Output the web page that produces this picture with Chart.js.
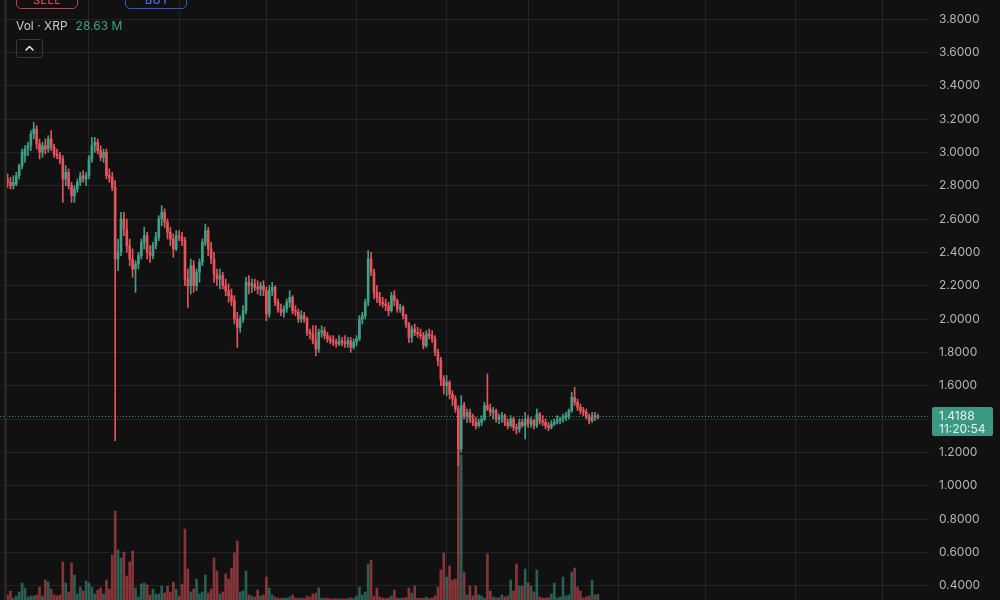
<!DOCTYPE html>
<html>
<head>
<meta charset="utf-8">
<script src="https://cdn.jsdelivr.net/npm/chart.js@4.4.1/dist/chart.umd.min.js"></script>
<style>
html,body{margin:0;padding:0;background:#111111;overflow:hidden;}
#wrap{position:relative;width:1000px;height:600px;overflow:hidden;background:#111111;font-family:Inter,"Noto Sans",sans-serif;}
#c{position:absolute;left:0;top:0;}
.edge{position:absolute;left:4px;top:0;width:3px;height:600px;background:#262626;}
.btn{position:absolute;top:-17px;height:26px;width:62px;box-sizing:border-box;border:1px solid;border-radius:5px;}
.btntext{position:absolute;top:-8px;height:16px;line-height:16px;font-size:11px;font-weight:500;letter-spacing:0.4px;}
.legend{position:absolute;top:18px;left:16px;height:15px;line-height:15px;font-size:12px;white-space:nowrap;}
.legend .lbl{color:#c8c8c8;}
.legend .val{color:#3fa38a;margin-left:8px;}
.chev{position:absolute;left:16px;top:39px;width:27px;height:19px;box-sizing:border-box;border:1px solid #383838;border-radius:3px;}
</style>
</head>
<body>
<div id="wrap">
  <canvas id="c" width="1000" height="600"></canvas>
  <div class="edge"></div>
  <div class="btn" style="left:16px;border-color:#b8434a;"></div>
  <div class="btntext" style="left:33px;color:#d9474f;">SELL</div>
  <div class="btn" style="left:125px;border-color:#3653d6;"></div>
  <div class="btntext" style="left:145px;color:#4d6ef0;">BUY</div>
  <div class="legend"><span class="lbl">Vol · XRP</span><span class="val">28.63 M</span></div>
  <div class="chev"><svg width="25" height="17" viewBox="0 0 25 17"><polyline points="9,10 12.5,6.5 16,10" fill="none" stroke="#e6e6e6" stroke-width="1.6" stroke-linecap="round" stroke-linejoin="round"/></svg></div>
</div>
<script>
// ---- data (daily candles, XRP) ----
const firstDate = '2025-09-03';
const monthStarts = ['2025-10-01','2025-11-01','2025-12-01','2026-01-01','2026-02-01','2026-03-01','2026-04-01','2026-05-01','2026-06-01','2026-07-01'];
const priceTicks = [0.4,0.6,0.8,1.0,1.2,1.4,1.6,1.8,2.0,2.2,2.4,2.6,2.8,3.0,3.2,3.4,3.6,3.8];
const lastPriceLabel = '1.4188';
const countdownLabel = '11:20:54';

const opens = [
2.84,2.82,2.80,2.81,2.86,2.92,2.98,3.02,3.04,3.11,
3.14,3.05,3.00,3.04,3.02,3.08,3.03,2.99,2.98,2.96,
2.84,2.88,2.80,2.74,2.78,2.82,2.86,2.84,2.86,2.96,
3.04,3.06,3.01,2.97,3.00,2.86,2.85,2.79,2.36,2.40,
2.60,2.54,2.44,2.36,2.30,2.33,2.38,2.46,2.50,2.40,
2.38,2.44,2.49,2.60,2.64,2.58,2.52,2.48,2.42,2.50,
2.49,2.47,2.24,2.20,2.32,2.20,2.28,2.34,2.46,2.53,
2.42,2.36,2.27,2.24,2.26,2.20,2.17,2.14,2.11,2.00,
1.95,2.00,2.05,2.22,2.20,2.21,2.19,2.18,2.20,2.17,
2.03,2.17,2.19,2.10,2.06,2.04,2.06,2.10,2.13,2.05,
2.04,2.00,2.02,2.00,1.92,1.91,1.87,1.82,1.92,1.93,
1.90,1.88,1.87,1.86,1.85,1.87,1.86,1.85,1.87,1.83,
1.86,1.88,2.00,2.02,2.10,2.36,2.28,2.16,2.13,2.10,
2.09,2.08,2.05,2.14,2.11,2.06,2.07,2.02,1.97,1.89,
1.94,1.92,1.91,1.90,1.84,1.91,1.90,1.88,1.80,1.75,
1.64,1.60,1.62,1.55,1.52,1.46,1.22,1.48,1.42,1.44,
1.40,1.38,1.36,1.38,1.40,1.48,1.46,1.44,1.45,1.40,
1.41,1.42,1.38,1.36,1.40,1.35,1.34,1.38,1.36,1.40,
1.37,1.39,1.36,1.43,1.39,1.38,1.36,1.35,1.37,1.38,
1.39,1.40,1.41,1.42,1.45,1.53,1.50,1.47,1.45,1.44,
1.41,1.39,1.42,1.41];

const highs = [
2.87,2.85,2.86,2.88,2.93,3.02,3.04,3.06,3.13,3.18,
3.16,3.08,3.06,3.08,3.10,3.13,3.05,3.02,3.00,2.98,
2.92,2.90,2.82,2.80,2.84,2.88,2.89,2.88,2.98,3.09,
3.09,3.08,3.04,3.02,3.02,2.90,2.88,2.83,2.48,2.64,
2.64,2.60,2.48,2.42,2.35,2.40,2.48,2.55,2.52,2.44,
2.46,2.52,2.62,2.68,2.66,2.60,2.55,2.51,2.53,2.53,
2.52,2.49,2.30,2.36,2.35,2.30,2.36,2.48,2.57,2.55,
2.46,2.40,2.30,2.30,2.28,2.24,2.21,2.18,2.14,2.04,
2.02,2.08,2.25,2.26,2.24,2.24,2.23,2.22,2.23,2.19,
2.20,2.22,2.20,2.12,2.09,2.08,2.12,2.17,2.14,2.08,
2.06,2.05,2.04,2.01,1.94,1.96,1.96,1.94,1.96,1.95,
1.92,1.90,1.90,1.88,1.90,1.89,1.90,1.89,1.89,1.88,
1.90,2.02,2.04,2.12,2.41,2.40,2.30,2.20,2.16,2.13,
2.12,2.10,2.16,2.17,2.12,2.09,2.08,2.03,1.98,1.96,
1.97,1.95,1.94,1.92,1.93,1.94,1.93,1.90,1.82,1.77,
1.66,1.66,1.63,1.57,1.54,1.48,1.54,1.50,1.46,1.46,
1.43,1.41,1.40,1.42,1.50,1.67,1.49,1.47,1.46,1.43,
1.44,1.43,1.40,1.42,1.41,1.37,1.40,1.40,1.44,1.42,
1.41,1.40,1.46,1.44,1.42,1.40,1.38,1.39,1.40,1.42,
1.41,1.43,1.44,1.46,1.56,1.59,1.52,1.49,1.47,1.46,
1.43,1.44,1.44,1.43];

const lows = [
2.79,2.78,2.78,2.80,2.84,2.90,2.94,2.98,3.01,3.08,
3.02,2.96,2.97,2.99,3.00,3.01,2.97,2.96,2.93,2.70,
2.80,2.78,2.70,2.70,2.76,2.80,2.82,2.80,2.84,2.94,
3.00,2.99,2.95,2.94,2.84,2.82,2.77,1.27,2.29,2.38,
2.50,2.40,2.32,2.25,2.16,2.30,2.36,2.42,2.36,2.34,
2.36,2.42,2.47,2.56,2.55,2.48,2.44,2.37,2.41,2.47,
2.44,2.20,2.07,2.15,2.16,2.17,2.22,2.32,2.44,2.38,
2.33,2.22,2.20,2.18,2.18,2.14,2.10,2.08,1.97,1.83,
1.92,1.98,2.03,2.15,2.16,2.17,2.15,2.14,2.14,1.99,
2.01,2.14,2.08,2.04,2.02,2.01,2.04,2.07,2.03,2.02,
1.98,1.98,1.98,1.90,1.88,1.85,1.78,1.80,1.89,1.88,
1.86,1.85,1.84,1.83,1.84,1.84,1.83,1.83,1.80,1.82,
1.84,1.87,1.97,2.00,2.08,2.26,2.12,2.10,2.08,2.07,
2.05,2.02,2.04,2.08,2.04,2.04,2.00,1.95,1.86,1.86,
1.90,1.89,1.88,1.82,1.83,1.88,1.86,1.78,1.72,1.60,
1.55,1.54,1.52,1.48,1.44,1.12,1.20,1.40,1.38,1.38,
1.36,1.34,1.35,1.36,1.39,1.45,1.42,1.40,1.38,1.37,
1.38,1.36,1.34,1.35,1.33,1.31,1.32,1.35,1.28,1.35,
1.35,1.34,1.35,1.37,1.36,1.34,1.33,1.34,1.36,1.37,
1.37,1.38,1.39,1.40,1.44,1.48,1.45,1.43,1.42,1.40,
1.37,1.38,1.39,1.40];

const closes = [
2.82,2.80,2.82,2.86,2.92,3.00,3.02,3.04,3.11,3.14,
3.05,3.00,3.04,3.02,3.08,3.03,2.99,2.98,2.96,2.84,
2.88,2.80,2.74,2.78,2.82,2.86,2.84,2.86,2.96,3.04,
3.06,3.01,2.97,3.00,2.86,2.85,2.79,2.36,2.40,2.60,
2.54,2.44,2.36,2.30,2.33,2.38,2.46,2.50,2.40,2.38,
2.44,2.49,2.60,2.64,2.58,2.52,2.48,2.42,2.50,2.49,
2.47,2.24,2.20,2.32,2.20,2.28,2.34,2.46,2.53,2.42,
2.36,2.27,2.24,2.26,2.20,2.17,2.14,2.11,2.00,1.95,
2.00,2.05,2.22,2.20,2.21,2.19,2.18,2.20,2.17,2.03,
2.17,2.19,2.10,2.06,2.04,2.06,2.10,2.13,2.05,2.04,
2.00,2.02,2.00,1.92,1.91,1.87,1.82,1.92,1.93,1.90,
1.88,1.87,1.86,1.85,1.87,1.86,1.85,1.87,1.83,1.86,
1.88,2.00,2.02,2.10,2.36,2.28,2.16,2.13,2.10,2.09,
2.08,2.05,2.14,2.11,2.06,2.07,2.02,1.97,1.89,1.94,
1.92,1.91,1.90,1.84,1.91,1.90,1.88,1.80,1.75,1.64,
1.60,1.62,1.55,1.52,1.46,1.22,1.48,1.42,1.44,1.40,
1.38,1.36,1.38,1.40,1.48,1.46,1.44,1.45,1.40,1.41,
1.42,1.38,1.36,1.40,1.35,1.34,1.38,1.36,1.40,1.37,
1.39,1.36,1.43,1.39,1.38,1.36,1.35,1.37,1.38,1.39,
1.40,1.41,1.42,1.45,1.53,1.50,1.47,1.45,1.44,1.41,
1.39,1.42,1.41,1.4188];

// volume in millions of XRP
const volumes = [
25,45,10,20,40,85,60,15,20,20,
25,65,20,100,90,55,25,20,25,190,
85,40,185,125,30,65,45,95,85,65,
30,50,60,30,100,55,225,445,250,210,
240,120,190,245,60,15,80,85,75,25,
55,30,30,70,35,70,40,90,55,20,
80,355,155,40,55,105,30,40,125,35,
55,210,145,30,40,130,105,160,235,295,
40,45,145,25,20,15,50,20,25,115,
60,25,15,10,8,10,10,15,25,10,
8,10,8,20,15,30,35,60,10,8,
10,6,5,8,5,6,5,8,10,8,
20,65,25,40,180,200,20,60,15,10,
8,10,20,50,10,8,10,12,60,35,
70,10,8,8,15,8,10,20,65,150,
235,115,170,100,105,750,725,140,25,70,
20,70,25,20,10,230,45,15,10,12,
25,15,20,100,45,180,70,70,155,85,
70,40,150,15,10,10,12,30,85,10,
15,115,20,25,140,160,65,45,10,15,
20,100,25,28.63];

// ---- build ----
const DAY = 86400000;
const epoch = Date.parse('2025-10-01T00:00:00Z');
const start = Date.parse(firstDate + 'T00:00:00Z');
const dayIndex = s => (Date.parse(s + 'T00:00:00Z') - epoch) / DAY;
const xs = opens.map((_, i) => (start - epoch) / DAY + i);
const monthTickValues = monthStarts.map(dayIndex);

const UP = '#3f9f88', DOWN = '#e5545b';
const UPV = 'rgba(63,159,136,0.55)', DOWNV = 'rgba(229,84,91,0.55)';
const isUp = i => closes[i] >= opens[i];
const GRID = 'rgba(255,255,255,0.075)';

const lastClose = closes[closes.length - 1];

const lastPricePlugin = {
  id: 'lastPrice',
  afterDatasetsDraw(chart) {
    const { ctx, chartArea: a, scales } = chart;
    const py = Math.round(scales.y.getPixelForValue(lastClose)) + 0.5;
    ctx.save();
    ctx.strokeStyle = 'rgba(63,159,136,0.85)';
    ctx.lineWidth = 1;
    ctx.setLineDash([1, 2]);
    ctx.beginPath();
    ctx.moveTo(a.left, py);
    ctx.lineTo(a.right, py);
    ctx.stroke();
    ctx.restore();
  },
  afterDraw(chart) {
    const { ctx, chartArea: a, scales } = chart;
    const py = scales.y.getPixelForValue(lastClose);
    const bx = a.right + 2, by = Math.round(py) - 9, bw = 61, bh = 29;
    ctx.save();
    ctx.fillStyle = '#3b9883';
    ctx.beginPath();
    if (ctx.roundRect) ctx.roundRect(bx, by, bw, bh, 2); else ctx.rect(bx, by, bw, bh);
    ctx.fill();
    ctx.fillStyle = '#e4f4ee';
    ctx.font = '12px Inter, "Noto Sans", sans-serif';
    ctx.textAlign = 'left';
    ctx.textBaseline = 'middle';
    ctx.fillText(lastPriceLabel, a.right + 9, by + 9.5);
    ctx.fillText(countdownLabel, a.right + 9, by + 22.5);
    ctx.restore();
  }
};

new Chart(document.getElementById('c'), {
  type: 'bar',
  data: {
    datasets: [
      {
        label: 'body',
        data: xs.map((x, i) => ({ x: x, y: [opens[i], closes[i]] })),
        backgroundColor: xs.map((_, i) => isUp(i) ? UP : DOWN),
        barThickness: 2,
        minBarLength: 1,
        borderWidth: 0,
        grouped: false,
        yAxisID: 'y',
        order: 1
      },
      {
        label: 'wick',
        data: xs.map((x, i) => ({ x: x, y: [lows[i], highs[i]] })),
        backgroundColor: xs.map((_, i) => isUp(i) ? UP : DOWN),
        barThickness: 1,
        borderWidth: 0,
        grouped: false,
        yAxisID: 'y',
        order: 2
      },
      {
        label: 'volume',
        data: xs.map((x, i) => ({ x: x, y: volumes[i] })),
        backgroundColor: xs.map((_, i) => isUp(i) ? UPV : DOWNV),
        barThickness: 2,
        borderWidth: 0,
        grouped: false,
        yAxisID: 'yv',
        order: 3
      }
    ]
  },
  options: {
    responsive: false,
    maintainAspectRatio: false,
    devicePixelRatio: 1,
    animation: false,
    events: [],
    layout: { padding: 0 },
    plugins: { legend: { display: false }, tooltip: { enabled: false } },
    scales: {
      x: {
        type: 'linear',
        min: -30.6,
        max: 289.2,
        offset: false,
        afterBuildTicks(s) { s.ticks = monthTickValues.map(v => ({ value: v })); },
        afterFit(s) { s.height = 0; s.paddingLeft = 0; s.paddingRight = 0; },
        ticks: { display: false },
        border: { display: false },
        grid: { color: GRID, drawTicks: false, offset: false }
      },
      y: {
        type: 'linear',
        position: 'right',
        min: 0.314,
        max: 3.914,
        afterBuildTicks(s) { s.ticks = priceTicks.map(v => ({ value: v })); },
        afterFit(s) { s.width = 70; s.paddingTop = 0; s.paddingBottom = 0; },
        border: { display: false },
        grid: { color: GRID, drawTicks: false },
        ticks: {
          padding: 9,
          color: '#b4b4b4',
          font: { family: 'Inter, "Noto Sans", sans-serif', size: 12 },
          callback: v => (Math.abs(v - 1.4) < 1e-9 ? '' : v.toFixed(4))
        }
      },
      yv: {
        type: 'linear',
        display: false,
        min: 0,
        max: 3000,
        grid: { display: false }
      }
    }
  },
  plugins: [lastPricePlugin]
});
</script>
</body>
</html>
